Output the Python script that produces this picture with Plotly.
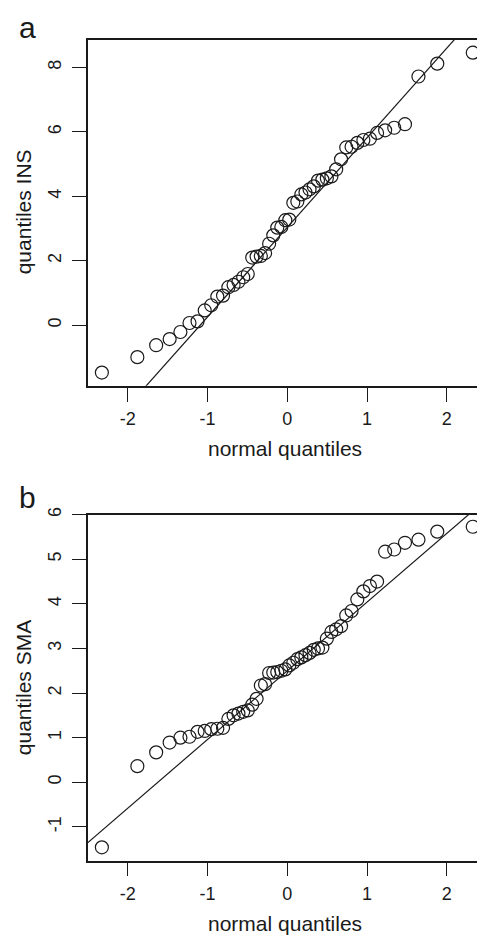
import plotly.graph_objects as go

# theoretical normal quantiles, n = 50 (shared by both panels)
norm_q = [-2.326, -1.881, -1.645, -1.476, -1.341, -1.227, -1.126, -1.036, -0.954, -0.878,
          -0.806, -0.739, -0.674, -0.613, -0.553, -0.496, -0.440, -0.385, -0.332, -0.279,
          -0.228, -0.176, -0.126, -0.075, -0.025, 0.025, 0.075, 0.126, 0.176, 0.228,
          0.279, 0.332, 0.385, 0.440, 0.496, 0.553, 0.613, 0.674, 0.739, 0.806,
          0.878, 0.954, 1.036, 1.126, 1.227, 1.341, 1.476, 1.645, 1.881, 2.326]

# sample quantiles, panel a (INS)
ins_q = [-1.47, -0.99, -0.62, -0.43, -0.21, 0.07, 0.12, 0.46, 0.62, 0.89,
         0.92, 1.18, 1.25, 1.35, 1.49, 1.59, 2.10, 2.13, 2.15, 2.24,
         2.53, 2.79, 3.03, 3.05, 3.26, 3.28, 3.80, 3.84, 4.06, 4.12,
         4.22, 4.31, 4.49, 4.52, 4.56, 4.62, 4.84, 5.15, 5.52, 5.54,
         5.66, 5.75, 5.79, 5.97, 6.05, 6.13, 6.24, 7.72, 8.12, 8.46]

# sample quantiles, panel b (SMA)
sma_q = [-1.46, 0.36, 0.67, 0.89, 1.00, 1.02, 1.13, 1.15, 1.19, 1.20,
         1.22, 1.42, 1.50, 1.54, 1.58, 1.61, 1.74, 1.87, 2.17, 2.20,
         2.45, 2.46, 2.47, 2.50, 2.53, 2.62, 2.68, 2.76, 2.80, 2.85,
         2.90, 2.97, 3.00, 3.02, 3.22, 3.37, 3.43, 3.50, 3.74, 3.84,
         4.10, 4.28, 4.40, 4.50, 5.17, 5.22, 5.37, 5.44, 5.62, 5.73]

# reference lines (intercept, slope)
ins_line = [3.04, 2.78]
sma_line = [2.50, 1.54]
line_x = [-3, 3]

INK = "#1a1a1a"
FONT = "Liberation Sans, Arial, sans-serif"
W, H = 485, 935
OFF = 8  # page body margin


def px(x):
    return (x - OFF) / W


def py(y):
    return 1 - (y - OFF) / H


fig = go.Figure()

for xa, ya, yq, ln in [("x", "y", ins_q, ins_line), ("x2", "y2", sma_q, sma_line)]:
    fig.add_trace(go.Scatter(
        x=line_x, y=[ln[0] + ln[1] * v for v in line_x],
        mode="lines", line=dict(color=INK, width=1.2),
        xaxis=xa, yaxis=ya, showlegend=False, hoverinfo="skip"))
    fig.add_trace(go.Scatter(
        x=norm_q, y=yq, mode="markers",
        marker=dict(symbol="circle-open", size=13, color=INK, line=dict(width=1.2)),
        xaxis=xa, yaxis=ya, showlegend=False, cliponaxis=False))

xcommon = dict(
    domain=[px(88), 1.0], range=[-2.5, 2.58], tickvals=[-2, -1, 0, 1, 2],
    ticktext=["-2", "-1", "0", "1", "2"],
    showgrid=False, zeroline=False, showline=True, mirror=True,
    linecolor=INK, linewidth=1.5, ticks="outside", ticklen=14, tickwidth=1.3,
    tickcolor=INK, tickfont=dict(size=18, color=INK, family=FONT),
    ticklabelstandoff=2,
)
ycommon = dict(
    showgrid=False, zeroline=False, showline=True, mirror=False,
    linecolor=INK, linewidth=1.5, ticks="outside", ticklen=14, tickwidth=1.3,
    tickcolor=INK, tickfont=dict(size=18, color=INK, family=FONT),
    tickangle=-90, ticklabelstandoff=4,
)

fig.update_layout(
    width=W, height=H,
    margin=dict(l=0, r=0, t=0, b=0),
    paper_bgcolor="white", plot_bgcolor="white",
    xaxis=dict(xcommon, anchor="y"),
    yaxis=dict(ycommon, domain=[py(381), py(32)], range=[-1.88, 8.86],
               tickvals=[0, 2, 4, 6, 8], anchor="x"),
    xaxis2=dict(xcommon, anchor="y2"),
    yaxis2=dict(ycommon, domain=[py(860), py(511)], range=[-1.76, 6.0],
                tickvals=[-1, 0, 1, 2, 3, 4, 5, 6], ticktext=["-1", "0", "1", "2", "3", "4", "5", "6"],
                anchor="x2"),
)

labels = [
    ("a", 17, 20, 30, 0),
    ("b", 17, 494, 30, 0),
    ("quantiles INS", 23, 206, 21, -90),
    ("quantiles SMA", 23, 686, 21, -90),
    ("normal quantiles", 285, 444, 21, 0),
    ("normal quantiles", 285, 923, 21, 0),
]
for txt, x, y, size, ang in labels:
    fig.add_annotation(
        text=txt, x=px(x), y=py(y), xref="paper", yref="paper",
        xanchor="left" if txt in ("a", "b") else "center", yanchor="middle",
        showarrow=False, textangle=ang,
        font=dict(size=size, color=INK, family=FONT))

fig.write_html("out.html")
